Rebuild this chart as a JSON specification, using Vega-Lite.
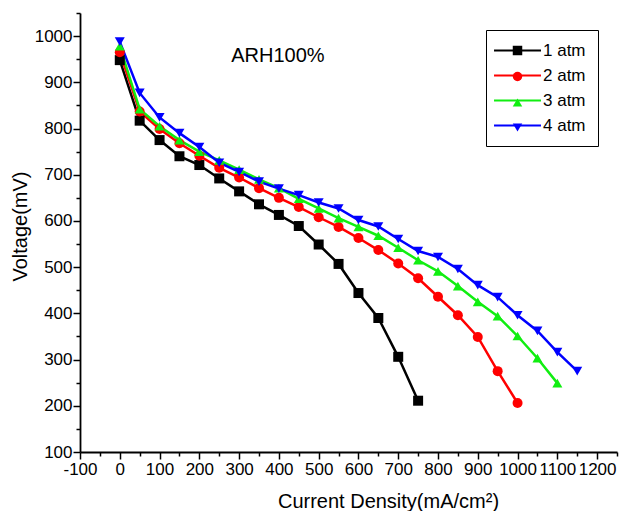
{
  "$schema": "https://vega.github.io/schema/vega-lite/v6.json",
  "width": 537,
  "height": 439,
  "autosize": {"type": "none"},
  "padding": {"left": 80, "top": 13, "right": 8, "bottom": 59},
  "background": "white",
  "config": {
    "view": {"stroke": null},
    "font": "Liberation Sans",
    "axis": {"labelFont": "Liberation Sans", "titleFont": "Liberation Sans", "labelColor": "black", "titleColor": "black", "domainColor": "black", "tickColor": "black", "grid": false, "labelFontSize": 17, "titleFontSize": 20, "titleFontWeight": "normal", "domainWidth": 1.8, "tickWidth": 1.5},
    "legend": {"title": null, "orient": "none", "legendX": 406, "legendY": 17, "padding": 12, "labelFontSize": 17, "labelFont": "Liberation Sans", "labelColor": "black", "symbolSize": 90, "symbolOffset": 11, "labelOffset": 17, "rowPadding": 7}
  },
  "data": {"values": [
    {"series": "1 atm", "j": 0, "v": 948}, {"series": "1 atm", "j": 50, "v": 817}, {"series": "1 atm", "j": 100, "v": 775}, {"series": "1 atm", "j": 150, "v": 740}, {"series": "1 atm", "j": 200, "v": 721}, {"series": "1 atm", "j": 250, "v": 692}, {"series": "1 atm", "j": 300, "v": 664}, {"series": "1 atm", "j": 350, "v": 636}, {"series": "1 atm", "j": 400, "v": 613}, {"series": "1 atm", "j": 450, "v": 589}, {"series": "1 atm", "j": 500, "v": 549}, {"series": "1 atm", "j": 550, "v": 507}, {"series": "1 atm", "j": 600, "v": 444}, {"series": "1 atm", "j": 650, "v": 390}, {"series": "1 atm", "j": 700, "v": 306}, {"series": "1 atm", "j": 750, "v": 211},
    {"series": "2 atm", "j": 0, "v": 965}, {"series": "2 atm", "j": 50, "v": 837}, {"series": "2 atm", "j": 100, "v": 799}, {"series": "2 atm", "j": 150, "v": 768}, {"series": "2 atm", "j": 200, "v": 741}, {"series": "2 atm", "j": 250, "v": 715}, {"series": "2 atm", "j": 300, "v": 694}, {"series": "2 atm", "j": 350, "v": 671}, {"series": "2 atm", "j": 400, "v": 650}, {"series": "2 atm", "j": 450, "v": 630}, {"series": "2 atm", "j": 500, "v": 608}, {"series": "2 atm", "j": 550, "v": 587}, {"series": "2 atm", "j": 600, "v": 563}, {"series": "2 atm", "j": 650, "v": 537}, {"series": "2 atm", "j": 700, "v": 508}, {"series": "2 atm", "j": 750, "v": 476}, {"series": "2 atm", "j": 800, "v": 436}, {"series": "2 atm", "j": 850, "v": 396}, {"series": "2 atm", "j": 900, "v": 349}, {"series": "2 atm", "j": 950, "v": 275}, {"series": "2 atm", "j": 1000, "v": 206},
    {"series": "3 atm", "j": 0, "v": 978}, {"series": "3 atm", "j": 50, "v": 842}, {"series": "3 atm", "j": 100, "v": 805}, {"series": "3 atm", "j": 150, "v": 775}, {"series": "3 atm", "j": 200, "v": 750}, {"series": "3 atm", "j": 250, "v": 731}, {"series": "3 atm", "j": 300, "v": 711}, {"series": "3 atm", "j": 350, "v": 690}, {"series": "3 atm", "j": 400, "v": 671}, {"series": "3 atm", "j": 450, "v": 648}, {"series": "3 atm", "j": 500, "v": 627}, {"series": "3 atm", "j": 550, "v": 606}, {"series": "3 atm", "j": 600, "v": 587}, {"series": "3 atm", "j": 650, "v": 568}, {"series": "3 atm", "j": 700, "v": 542}, {"series": "3 atm", "j": 750, "v": 515}, {"series": "3 atm", "j": 800, "v": 491}, {"series": "3 atm", "j": 850, "v": 459}, {"series": "3 atm", "j": 900, "v": 425}, {"series": "3 atm", "j": 950, "v": 394}, {"series": "3 atm", "j": 1000, "v": 351}, {"series": "3 atm", "j": 1050, "v": 303}, {"series": "3 atm", "j": 1100, "v": 249},
    {"series": "4 atm", "j": 0, "v": 988}, {"series": "4 atm", "j": 50, "v": 877}, {"series": "4 atm", "j": 100, "v": 824}, {"series": "4 atm", "j": 150, "v": 790}, {"series": "4 atm", "j": 200, "v": 760}, {"series": "4 atm", "j": 250, "v": 726}, {"series": "4 atm", "j": 300, "v": 706}, {"series": "4 atm", "j": 350, "v": 685}, {"series": "4 atm", "j": 400, "v": 670}, {"series": "4 atm", "j": 450, "v": 656}, {"series": "4 atm", "j": 500, "v": 640}, {"series": "4 atm", "j": 550, "v": 627}, {"series": "4 atm", "j": 600, "v": 602}, {"series": "4 atm", "j": 650, "v": 588}, {"series": "4 atm", "j": 700, "v": 561}, {"series": "4 atm", "j": 750, "v": 535}, {"series": "4 atm", "j": 800, "v": 522}, {"series": "4 atm", "j": 850, "v": 496}, {"series": "4 atm", "j": 900, "v": 461}, {"series": "4 atm", "j": 950, "v": 435}, {"series": "4 atm", "j": 1000, "v": 396}, {"series": "4 atm", "j": 1050, "v": 362}, {"series": "4 atm", "j": 1100, "v": 316}, {"series": "4 atm", "j": 1150, "v": 275}
  ]},
  "resolve": {"axis": {"x": "independent", "y": "independent"}},
  "layer": [
    {
      "mark": {"type": "line", "strokeWidth": 2.5},
      "encoding": {
        "x": {"field": "j", "type": "quantitative", "scale": {"domain": [-100, 1250], "nice": false, "zero": false},
          "axis": {"orient": "bottom", "values": [-100, 0, 100, 200, 300, 400, 500, 600, 700, 800, 900, 1000, 1100, 1200], "labelExpr": "'' + datum.value", "tickSize": 7, "labelPadding": 2, "labelOverlap": false, "labelFlush": false, "title": "Current Density(mA/cm²)", "titleX": 308, "titleY": 55, "titleAlign": "center", "titleBaseline": "alphabetic"}},
        "y": {"field": "v", "type": "quantitative", "scale": {"domain": [100, 1050], "nice": false, "zero": false},
          "axis": {"orient": "left", "values": [100, 200, 300, 400, 500, 600, 700, 800, 900, 1000], "labelExpr": "'' + datum.value", "tickSize": 7, "labelPadding": 1, "labelOverlap": false, "labelFlush": false, "title": "Voltage(mV)", "titlePadding": 4, "titleY": 213}},
        "stroke": {"field": "series", "type": "nominal", "scale": {"domain": ["1 atm", "2 atm", "3 atm", "4 atm"], "range": ["#000000", "#ff0000", "#11ee11", "#0000ff"]},
          "legend": {"symbolType": "M-4.95,0H4.95", "symbolStrokeWidth": 2, "strokeColor": "black"}},
        "detail": {"field": "series"}
      }
    },
    {
      "mark": {"type": "point", "filled": true, "opacity": 1, "size": 100},
      "encoding": {
        "x": {"field": "j", "type": "quantitative",
          "axis": {"orient": "bottom", "values": [-50, 50, 150, 250, 350, 450, 550, 650, 750, 850, 950, 1050, 1150, 1250], "labels": false, "domain": false, "tickSize": 4, "title": null}},
        "y": {"field": "v", "type": "quantitative",
          "axis": {"orient": "left", "values": [150, 250, 350, 450, 550, 650, 750, 850, 950, 1050], "labels": false, "domain": false, "tickSize": 4, "title": null}},
        "fill": {"field": "series", "type": "nominal", "scale": {"range": ["#000000", "#ff0000", "#11ee11", "#0000ff"]},
          "legend": {"symbolStrokeWidth": 2, "symbolStrokeColor": "transparent", "labelColor": "transparent", "labelExpr": "' '", "symbolOpacity": 1}},
        "shape": {"field": "series", "type": "nominal", "scale": {"range": ["square", "circle", "triangle-up", "triangle-down"]},
          "legend": {"symbolStrokeWidth": 2, "symbolStrokeColor": "transparent", "labelColor": "transparent", "labelExpr": "' '", "symbolOpacity": 1}}
      }
    },
    {
      "data": {"values": [{"j": 280, "v": 944, "label": "ARH100%"}]},
      "mark": {"type": "text", "align": "left", "baseline": "alphabetic", "fontSize": 20, "font": "Liberation Sans", "color": "black"},
      "encoding": {
        "x": {"field": "j", "type": "quantitative", "axis": null},
        "y": {"field": "v", "type": "quantitative", "axis": null},
        "text": {"field": "label"}
      }
    }
  ]
}
